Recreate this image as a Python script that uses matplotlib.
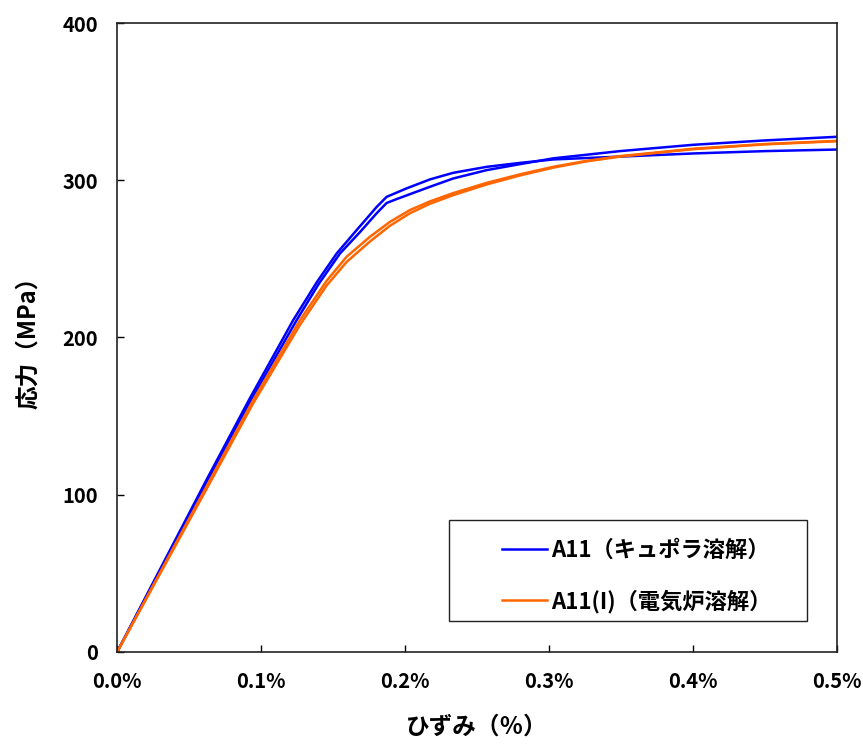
import numpy as np
import matplotlib
matplotlib.use("Agg")
import matplotlib.pyplot as plt
from matplotlib.patches import Rectangle

plt.rcParams['font.family'] = ['Noto Sans CJK JP', 'DejaVu Sans']
plt.rcParams['font.weight'] = 'bold'

# strain (%) / stress (MPa)
blue_a_strain = [0, 0.0621, 0.092, 0.1223, 0.1386, 0.1525, 0.1664, 0.1803, 0.1872, 0.2011, 0.2173,
                 0.2335, 0.2567, 0.2798, 0.303, 0.3493, 0.4, 0.45, 0.5]
blue_a_stress = [0, 109.5, 161, 211, 235, 253.4, 268.3, 283, 289.4, 294.8, 300.5,
                 304.7, 308.5, 311, 313.2, 315, 317, 318.5, 319.5]

blue_b_strain = [0, 0.0621, 0.092, 0.1247, 0.14, 0.1548, 0.1687, 0.1803, 0.1872, 0.1942, 0.2173,
                 0.2335, 0.2567, 0.2798, 0.303, 0.3493, 0.4, 0.45, 0.5]
blue_b_stress = [0, 108, 158.5, 211, 234, 253.4, 267, 279, 285.5, 288, 295.8,
                 301.1, 306.4, 310.2, 313.9, 318.5, 322.5, 325.3, 327.6]

orange_a_strain = [0, 0.0644, 0.0944, 0.127, 0.1455, 0.1594, 0.1756, 0.1895, 0.2034, 0.2173,
                   0.2335, 0.2567, 0.2798, 0.303, 0.3262, 0.3493, 0.4, 0.45, 0.5]
orange_a_stress = [0, 109.2, 160, 211, 236, 251.3, 264, 273.5, 281, 286.5,
                   291.8, 298.3, 303.7, 308.5, 312.3, 315.3, 320, 323, 325]

orange_b_strain = [0, 0.0644, 0.0944, 0.127, 0.1455, 0.1594, 0.1756, 0.1895, 0.2034, 0.2173,
                   0.2335, 0.2567, 0.2798, 0.303, 0.3262, 0.3493, 0.4, 0.45, 0.5]
orange_b_stress = [0, 107.5, 158, 208, 233, 248, 261, 271, 279, 285,
                   290.5, 297.3, 303, 308, 312, 315, 319.7, 322.8, 324.8]

x_ticks = [0, 0.1, 0.2, 0.3, 0.4, 0.5]
x_tick_labels = ['0.0%', '0.1%', '0.2%', '0.3%', '0.4%', '0.5%']
y_ticks = [0, 100, 200, 300, 400]

blue = '#0000FF'
orange = '#FF6600'

fig = plt.figure(figsize=(8.63, 7.45), dpi=100)
ax = fig.add_axes([0.1359, 0.1252, 0.8336, 0.8439])

ax.plot(blue_a_strain, blue_a_stress, color=blue, lw=1.8, label='A11（キュポラ溶解）')
ax.plot(blue_b_strain, blue_b_stress, color=blue, lw=1.8)
ax.plot(orange_a_strain, orange_a_stress, color=orange, lw=1.8, label='A11(I)（電気炉溶解）')
ax.plot(orange_b_strain, orange_b_stress, color=orange, lw=1.8)

ax.set_xlim(0, 0.5)
ax.set_ylim(0, 400)
ax.set_xticks(x_ticks)
ax.set_xticklabels(x_tick_labels)
ax.set_yticks(y_ticks)
ax.tick_params(direction='in', length=5, width=1, labelsize=14.5, pad=14, colors='black')
for lab in ax.get_xticklabels() + ax.get_yticklabels():
    lab.set_fontweight('bold')
for sp in ax.spines.values():
    sp.set_linewidth(1.2)
    sp.set_color('#222222')

ax.set_xlabel('ひずみ（％）', fontsize=17, fontweight='bold', labelpad=16)
ax.set_ylabel('応力（MPa）', fontsize=17, fontweight='bold', labelpad=16)

# legend frame drawn separately
ax.add_patch(Rectangle((0.461, 0.0488), 0.4977, 0.1607, transform=ax.transAxes,
                       fill=False, edgecolor='#222222', lw=1.0, zorder=5))
leg = ax.legend(loc='upper left', bbox_to_anchor=(0.52, 0.198), frameon=False,
                borderpad=0, handlelength=2.0, handletextpad=0.2, labelspacing=1.25,
                prop={'size': 16, 'weight': 'bold'})

fig.savefig('out.png', dpi=100)
